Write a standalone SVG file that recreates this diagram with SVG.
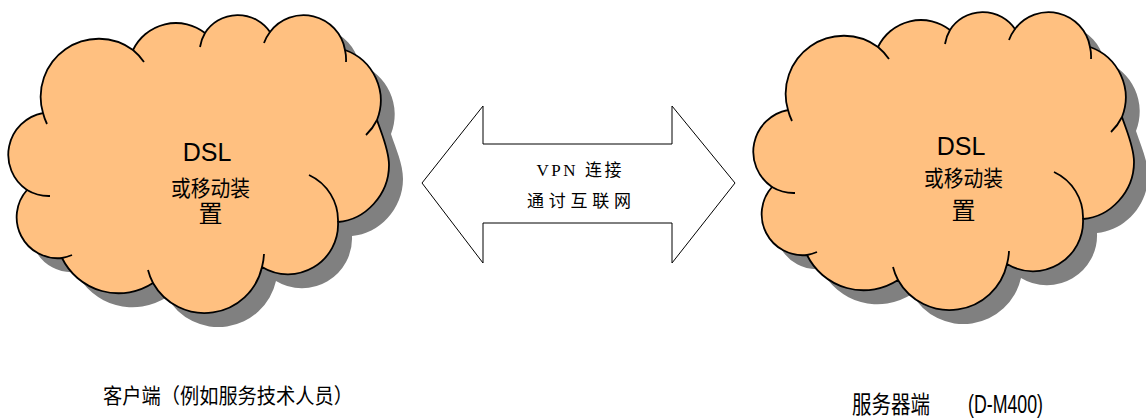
<svg xmlns="http://www.w3.org/2000/svg" xmlns:xlink="http://www.w3.org/1999/xlink" width="1146" height="419" viewBox="0 0 1146 419">
<style>
.shadow{fill:#808080;stroke:none}
.body{fill:#FFC080;stroke:#000;stroke-width:1.8;stroke-linejoin:round}
.hint{fill:none;stroke:#000;stroke-width:1.8;stroke-linecap:butt}
.ct{font-family:"Liberation Sans","Noto Sans CJK SC",sans-serif;fill:#000;text-anchor:middle}
.lbl{font-family:"Liberation Sans","Noto Sans CJK SC",sans-serif;fill:#000}
.arrow{fill:#fff;stroke:#000;stroke-width:1}
.at{font-family:"Liberation Serif","Noto Sans CJK SC",serif;fill:#000;font-size:17px;text-anchor:middle}
</style>
<defs>
<path id="cloud" d="M43,113 A58,58 0 0 1 133,50 A47.5,47.5 0 0 1 205,33 A39,39 0 0 1 270,32 A42,42 0 0 1 345,50 A53.5,53.5 0 0 1 377,120 C382,135 389,150 389,165 C389,195 365,220 338,222 A50,50 0 0 1 262,267 A59,59 0 0 1 153,283 A63,63 0 0 1 62,258 A41,41 0 0 1 27,190 A42.5,42.5 0 0 1 43,113 Z"/>
<path id="hints" d="M43,113 A58,58 0 0 0 47,124 M133,50 A58,58 0 0 1 144,62 M205,33 A39,39 0 0 0 200,47 M270,32 A42,42 0 0 0 264,43 M345,50 A42,42 0 0 1 346,62 M377,120 A53.5,53.5 0 0 1 366,135 M338,222 A50,50 0 0 0 309,175 M262,267 A59,59 0 0 0 264,254 M153,283 A59,59 0 0 1 148,270 M62,258 A41,41 0 0 0 72,255 M27,190 A42.5,42.5 0 0 0 50,196"/>
</defs>
<rect width="1146" height="419" fill="#fff"/>
<g id="client-cloud">
<use xlink:href="#cloud" href="#cloud" class="shadow" transform="translate(14,14)"/>
<use xlink:href="#cloud" href="#cloud" class="body"/>
<use xlink:href="#hints" href="#hints" class="hint"/>
<text class="ct" x="207" y="161" font-size="25">DSL</text>
<text class="ct" x="171" y="196" font-size="22" textLength="79" lengthAdjust="spacingAndGlyphs" style="text-anchor:start">或移动装</text>
<text class="ct" x="210.5" y="222" font-size="24">置</text>
<text class="lbl" x="103" y="403" font-size="21" textLength="250" lengthAdjust="spacingAndGlyphs">客户端（例如服务技术人员）</text>
</g>
<g id="server-cloud">
<use xlink:href="#cloud" href="#cloud" class="shadow" transform="translate(759,11)"/>
<use xlink:href="#cloud" href="#cloud" class="body" transform="translate(745,-3)"/>
<use xlink:href="#hints" href="#hints" class="hint" transform="translate(745,-3)"/>
<text class="ct" x="961" y="155" font-size="25">DSL</text>
<text class="ct" x="924" y="186" font-size="22" textLength="79" lengthAdjust="spacingAndGlyphs" style="text-anchor:start">或移动装</text>
<text class="ct" x="963.5" y="219" font-size="24">置</text>
<text class="lbl" y="413" font-size="24"><tspan x="852" textLength="78" lengthAdjust="spacingAndGlyphs">服务器端</tspan><tspan x="968" font-size="25" textLength="75" lengthAdjust="spacingAndGlyphs">(D-M400)</tspan></text>
</g>
<g id="connectors">
<polygon class="arrow" points="422,183 483,106 483,144 672,144 672,106 735,183 672,263 672,223 483,223 483,263"/>
<text class="at" x="579" y="176" textLength="85" lengthAdjust="spacing">VPN 连接</text>
<text class="at" x="579" y="207" textLength="104" lengthAdjust="spacing">通讨互联网</text>
</g>
</svg>
